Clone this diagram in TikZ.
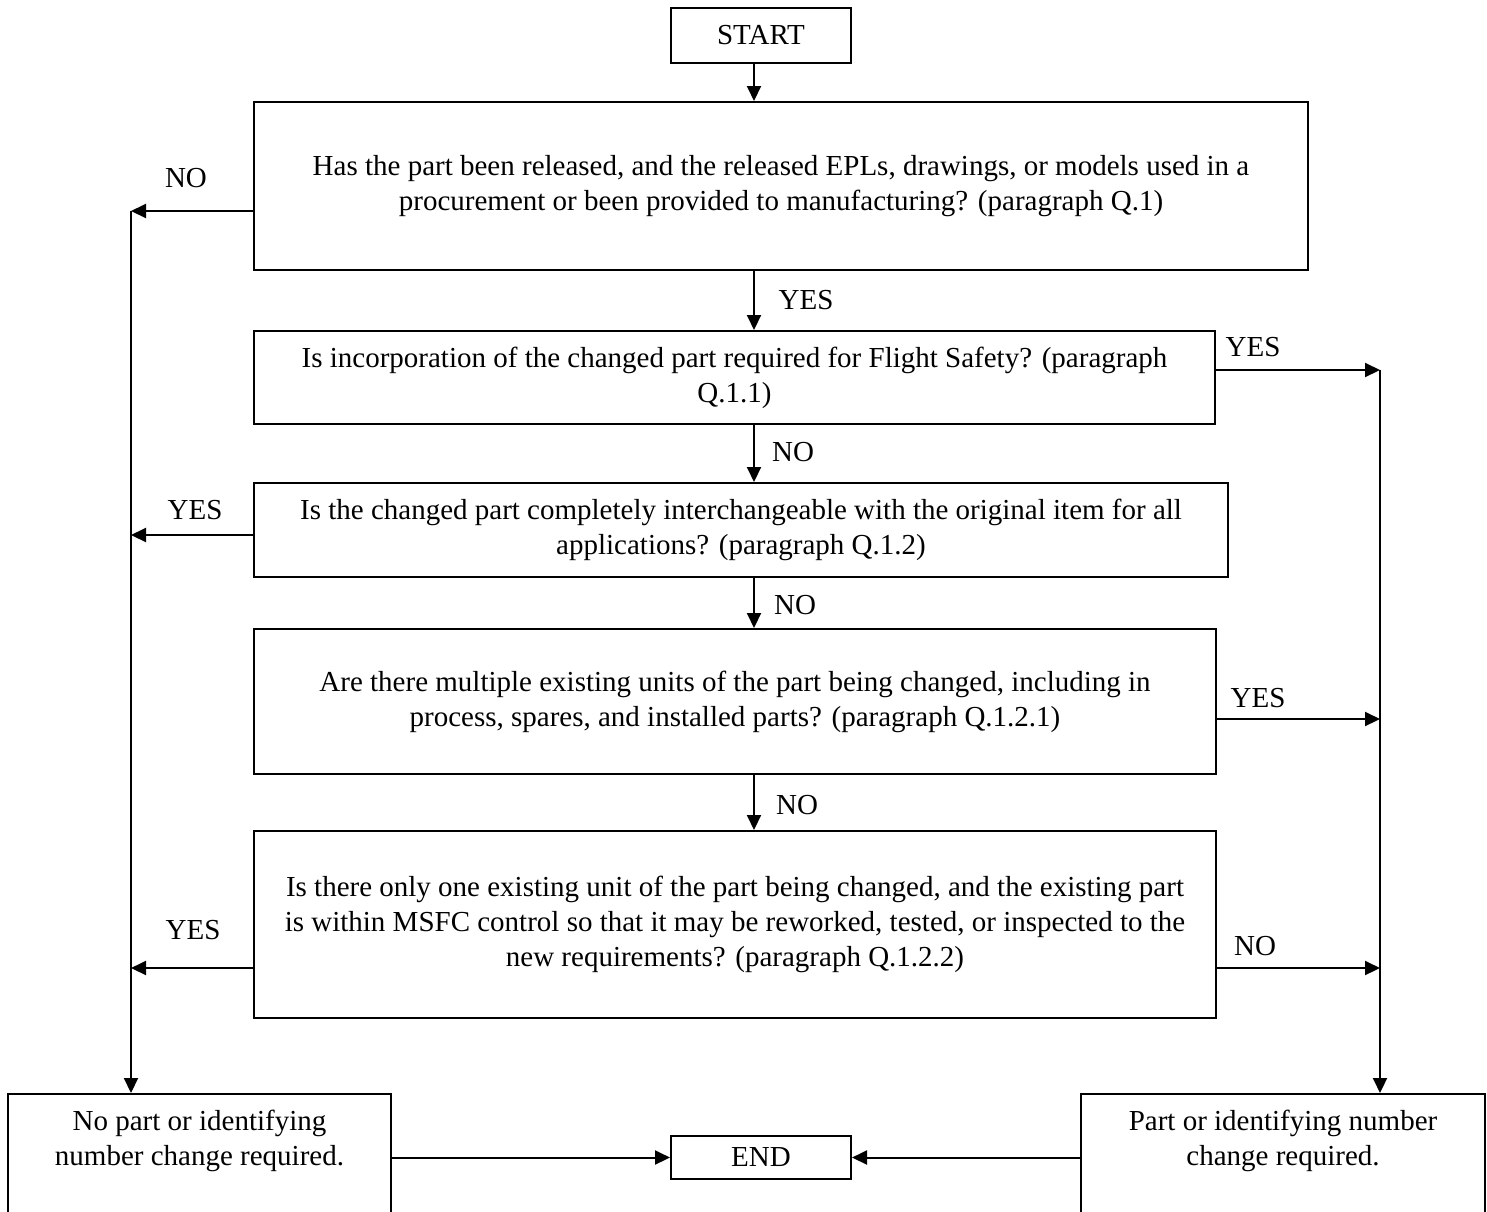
\documentclass[tikz,border=0pt]{standalone}
\usepackage{fontspec}
\setmainfont{Liberation Serif}
\usetikzlibrary{arrows.meta,calc}
\begin{document}
\begin{tikzpicture}[x=0.5pt,y=-0.5pt,
  box/.style={draw, line width=1pt, inner sep=0pt, align=center, font=\fontsize{14.5}{17.5}\selectfont},
  txt/.style={inner sep=0pt, align=center, font=\fontsize{14.5}{17.5}\selectfont},
  lbl/.style={font=\fontsize{14.5}{17.5}\selectfont, inner sep=0pt},
  arr/.style={line width=1pt, -{Triangle[length=7.5pt,width=7pt]}}]
\path[use as bounding box, clip] (0,0) rectangle (1487,1211);
\fill[white] (0,0) rectangle (1487,1211);

\node[box, minimum width=90pt, minimum height=27.5pt] (start) at (761,35.5) {START};
\node[box, minimum width=527pt, minimum height=84pt] (b1) at (781,186)
  {Has the part been released, and the released EPLs, drawings, or models used in a\\ procurement or been provided to manufacturing? (paragraph Q.1)};
\node[box, minimum width=480.5pt, minimum height=46.5pt] (b2) at (734.5,377.5)
  {Is incorporation of the changed part required for Flight Safety? (paragraph\\ Q.1.1)};
\node[box, minimum width=487pt, minimum height=47pt] (b3) at (741,530)
  {Is the changed part completely interchangeable with the original item for all\\ applications? (paragraph Q.1.2)};
\node[box, minimum width=481pt, minimum height=72.5pt] (b4) at (735,701.5)
  {Are there multiple existing units of the part being changed, including in\\ process, spares, and installed parts? (paragraph Q.1.2.1)};
\node[box, minimum width=481pt, minimum height=93.5pt] (b5) at (735,924.5)
  {Is there only one existing unit of the part being changed, and the existing part\\ is within MSFC control so that it may be reworked, tested, or inspected to the\\ new requirements? (paragraph Q.1.2.2)};
\node[box, minimum width=191.5pt, minimum height=73pt] (nochg) at (199.5,1167) {};
\node[txt] (nochgtxt) at (199.5,1140.5) {No part or identifying\\ number change required.};
\node[box, minimum width=202pt, minimum height=73pt] (chg) at (1283,1167) {};
\node[txt] (chgtxt) at (1283,1140.5) {Part or identifying number\\ change required.};
\node[box, minimum width=90pt, minimum height=21.5pt] (endn) at (761,1157.5) {END};

\coordinate (col) at (754,0);
\coordinate (L1) at (131,211);
\coordinate (L3) at (131,535);
\coordinate (L5) at (131,968);
\coordinate (R2) at (1380,370);
\coordinate (R4) at (1380,719);
\coordinate (R5) at (1380,968);

\draw[arr] (start.south -| col) -- (b1.north -| col);
\draw[arr] (b1.south -| col) -- (b2.north -| col);
\draw[arr] (b2.south -| col) -- (b3.north -| col);
\draw[arr] (b3.south -| col) -- (b4.north -| col);
\draw[arr] (b4.south -| col) -- (b5.north -| col);

\draw[arr] (b1.west |- L1) -- (L1);
\draw[arr] (L1) -- (nochg.north -| L1);
\draw[arr] (b3.west |- L3) -- (L3);
\draw[arr] (b5.west |- L5) -- (L5);
\draw[arr] (b2.east |- R2) -- (R2);
\draw[arr] (R2) -- (chg.north -| R2);
\draw[arr] (b4.east |- R4) -- (R4);
\draw[arr] (b5.east |- R5) -- (R5);
\draw[arr] (nochg.east |- endn.west) -- (endn.west);
\draw[arr] (chg.west |- endn.east) -- (endn.east);

\node[lbl] (lNO1) at (186,178) {NO};
\node[lbl] (lYES1) at (806,300) {YES};
\node[lbl] (lYES2) at (1253,347) {YES};
\node[lbl] (lNO2) at (793,452) {NO};
\node[lbl] (lYES3) at (195,510) {YES};
\node[lbl] (lNO3) at (795,605) {NO};
\node[lbl] (lYES4) at (1258,698) {YES};
\node[lbl] (lNO4) at (797,805) {NO};
\node[lbl] (lYES5) at (193,930) {YES};
\node[lbl] (lNO5) at (1255,946) {NO};
\end{tikzpicture}
\end{document}
